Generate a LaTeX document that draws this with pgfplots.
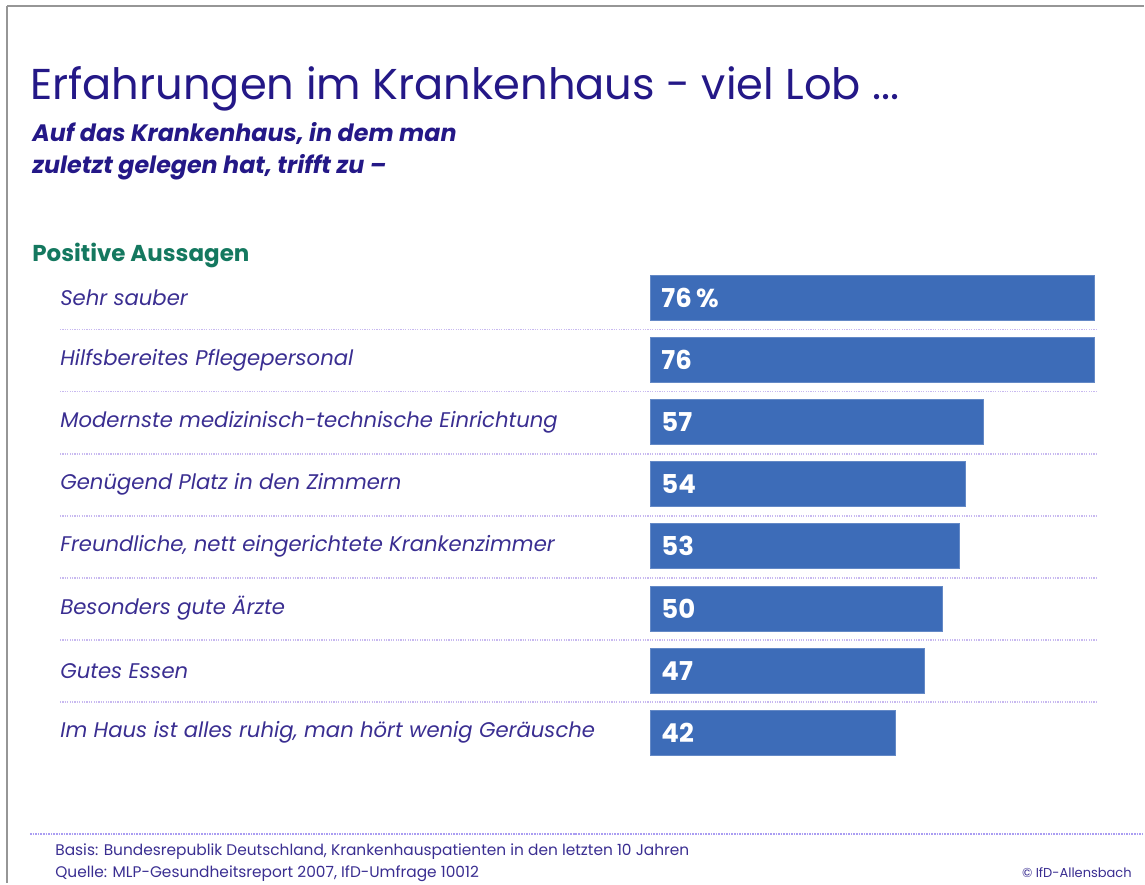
\documentclass[border=0pt]{standalone}
\usepackage{pgfplots}
\pgfplotsset{compat=1.18}
\usepackage{fontspec}
\setmainfont{Poppins}
\definecolor{titleblue}{RGB}{36,24,135}
\definecolor{labelblue}{RGB}{58,46,145}
\definecolor{barblue}{RGB}{61,108,184}
\definecolor{teal}{RGB}{20,120,95}
\definecolor{sepline}{RGB}{200,185,240}
\definecolor{framegray}{RGB}{150,150,150}
\tikzset{valnode/.style={anchor=west, xshift=2pt, text=white, font=\fontsize{13}{14}\selectfont\bfseries}}

\begin{document}
\begin{tikzpicture}[x=0.5pt,y=-0.5pt]
% page size in reference pixels
\path (0,0) rectangle (1145,884);
\draw[framegray, line width=1pt] (7.5,5.5) -- (1145,5.5);
\draw[framegray, line width=1pt] (7.5,5.5) -- (7.5,884);

% titles
\node[anchor=base west, inner sep=0, text=titleblue, font=\fontsize{21.6}{26}\selectfont]
  at (30,100) {Erfahrungen im Krankenhaus - viel Lob ...};
\node[anchor=base west, inner sep=0, text=titleblue, font=\fontsize{11.9}{14}\selectfont\bfseries\itshape]
  at (32,142) {Auf das Krankenhaus, in dem man};
\node[anchor=base west, inner sep=0, text=titleblue, font=\fontsize{11.9}{14}\selectfont\bfseries\itshape]
  at (32,174) {zuletzt gelegen hat, trifft zu –};
\node[anchor=base west, inner sep=0, text=teal, font=\fontsize{11.5}{14}\selectfont\bfseries]
  at (32,262) {Positive Aussagen};

% separators
\foreach \k in {0,...,6} {
  \draw[sepline, line width=0.7pt, dash pattern=on 0.6pt off 0.6pt] (60,330+62.1*\k) -- (1097,330+62.1*\k);
}
\draw[sepline!85!blue, line width=0.9pt, dash pattern=on 0.8pt off 0.5pt] (30,835) -- (1145,835);

\begin{axis}[
  at={(325.5pt,-382.25pt)}, anchor=south west,
  scale only axis,
  width=222pt, height=248.8pt,
  xbar, bar width=22.5pt,
  xmin=0, xmax=76,
  ymin=-0.5, ymax=7.5, y dir=reverse,
  axis line style={draw=none},
  xtick=\empty,
  ytick={0,...,7},
  major tick length=0pt,
  yticklabels={Sehr sauber, Hilfsbereites Pflegepersonal, Modernste medizinisch-technische Einrichtung,
    Genügend Platz in den Zimmern, {Freundliche, nett eingerichtete Krankenzimmer},
    Besonders gute Ärzte, Gutes Essen, {Im Haus ist alles ruhig, man hört wenig Geräusche}},
  yticklabel style={anchor=west, inner xsep=0pt, xshift=-295.5pt, text=labelblue, font=\fontsize{10.6}{12}\selectfont\itshape},
  clip=false,
]
\addplot[fill=barblue, draw=barblue!80!white] coordinates {
  (76,0) (76,1) (57,2) (54,3) (53,4) (50,5) (47,6) (42,7)
};
\node[valnode] at (axis cs:0,0) {76\,\%};
\node[valnode] at (axis cs:0,1) {76};
\node[valnode] at (axis cs:0,2) {57};
\node[valnode] at (axis cs:0,3) {54};
\node[valnode] at (axis cs:0,4) {53};
\node[valnode] at (axis cs:0,5) {50};
\node[valnode] at (axis cs:0,6) {47};
\node[valnode] at (axis cs:0,7) {42};
\end{axis}

% footer
\node[anchor=base west, inner sep=0, text=labelblue, font=\fontsize{7.7}{9}\selectfont]
  at (55,856) {Basis: Bundesrepublik Deutschland, Krankenhauspatienten in den letzten 10 Jahren};
\node[anchor=base west, inner sep=0, text=labelblue, font=\fontsize{7.7}{9}\selectfont]
  at (55,878) {Quelle: MLP-Gesundheitsreport 2007, IfD-Umfrage 10012};
\node[anchor=base east, inner sep=0, text=labelblue, font=\fontsize{6.5}{8}\selectfont]
  at (1133,878) {© IfD-Allensbach};
\end{tikzpicture}
\end{document}
